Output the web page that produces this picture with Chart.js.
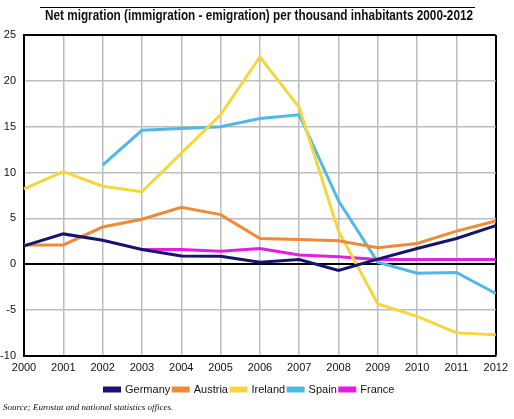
<!DOCTYPE html>
<html>
<head>
<meta charset="utf-8">
<script src="https://cdn.jsdelivr.net/npm/chart.js@4/dist/chart.umd.min.js"></script>
<style>
html,body{margin:0;padding:0;background:#fff;}
#wrap{width:514px;height:419px;position:relative;}
</style>
</head>
<body>
<div id="wrap"><canvas id="c" width="514" height="419"></canvas></div>
<script>
const years = ['2000','2001','2002','2003','2004','2005','2006','2007','2008','2009','2010','2011','2012'];
const germany = [2.0, 3.3, 2.6, 1.6, 0.9, 0.85, 0.2, 0.5, -0.7, 0.55, 1.7, 2.8, 4.2];
const austria = [2.1, 2.1, 4.05, 4.9, 6.2, 5.4, 2.8, 2.7, 2.55, 1.8, 2.25, 3.6, 4.7];
const ireland = [8.2, 10.1, 8.5, 7.9, 12.1, 16.3, 22.6, 17.1, 3.6, -4.35, -5.7, -7.5, -7.7];
const spain = [null, null, 10.8, 14.6, 14.8, 15.0, 15.9, 16.3, 6.9, 0.2, -1.0, -0.9, -3.2];
const france = [null, null, null, 1.6, 1.6, 1.4, 1.7, 1.0, 0.8, 0.5, 0.5, 0.5, 0.5];
const yTicks = [-10, -5, 0, 5, 10, 15, 20, 25];

const titleText = 'Net migration (immigration - emigration) per thousand inhabitants 2000-2012';
const sourceText = 'Source; Eurostat and national statistics offices.';

// Draws the condensed bold title with the rule above it, and the source note
const texts = {
  id: 'texts',
  afterDraw(chart) {
    const ctx = chart.ctx;
    ctx.save();
    ctx.strokeStyle = '#000';
    ctx.lineWidth = 1;
    ctx.beginPath();
    ctx.moveTo(40, 7.5);
    ctx.lineTo(475, 7.5);
    ctx.stroke();
    ctx.save();
    ctx.translate(259, 16);
    ctx.scale(0.84, 1);
    ctx.font = "bold 14px 'Liberation Sans', Arial, sans-serif";
    ctx.fillStyle = '#111';
    ctx.textAlign = 'center';
    ctx.textBaseline = 'middle';
    ctx.fillText(titleText, 0, 0);
    ctx.restore();
    ctx.font = "italic 9px 'Liberation Serif', 'Times New Roman', serif";
    ctx.fillStyle = '#111';
    ctx.textAlign = 'left';
    ctx.textBaseline = 'middle';
    ctx.fillText(sourceText, 3, 408);
    ctx.restore();
  }
};

function ds(label, data, color) {
  return {label, data, borderColor: color, backgroundColor: color, borderWidth: 3,
    pointRadius: 0, tension: 0, spanGaps: false, fill: false};
}

new Chart(document.getElementById('c'), {
  type: 'line',
  data: {
    labels: years,
    datasets: [
      ds('Germany', germany, '#15156e'),
      ds('Austria', austria, '#ef8a36'),
      ds('Ireland', ireland, '#f5d63c'),
      ds('Spain', spain, '#4fb8e7'),
      ds('France', france, '#e31ee3')
    ]
  },
  options: {
    responsive: false,
    animation: false,
    layout: {padding: {left: 0, right: 15, top: 35, bottom: 14}},
    plugins: {
      title: {display: false},
      legend: {
        position: 'bottom',
        labels: {boxWidth: 15, boxHeight: 3, padding: 3, color: '#111',
          font: {family: 'Arial, Liberation Sans, sans-serif', size: 11}}
      },
      tooltip: {enabled: false}
    },
    scales: {
      x: {
        offset: false,
        grid: {
          drawTicks: false,
          color: c => (c.index === 12 ? '#000' : '#bdbdbd'),
          lineWidth: c => (c.index === 12 ? 2 : 1.5)
        },
        border: {display: true, color: '#000', width: 2},
        ticks: {padding: 6, color: '#111', maxRotation: 0, autoSkip: false,
          font: {family: 'Arial, Liberation Sans, sans-serif', size: 11}}
      },
      y: {
        min: -10, max: 25,
        afterBuildTicks: s => { s.ticks = yTicks.map(v => ({value: v})); },
        afterFit: s => { s.width = 24; },
        grid: {
          drawTicks: false,
          color: c => ((c.tick.value === 0 || c.tick.value === 25) ? '#000' : '#bdbdbd'),
          lineWidth: c => ((c.tick.value === 0 || c.tick.value === 25) ? 2 : 1.5)
        },
        border: {display: true, color: '#000', width: 2},
        ticks: {padding: 8, color: '#111',
          font: {family: 'Arial, Liberation Sans, sans-serif', size: 11}}
      }
    }
  },
  plugins: [texts]
});
</script>
</body>
</html>
